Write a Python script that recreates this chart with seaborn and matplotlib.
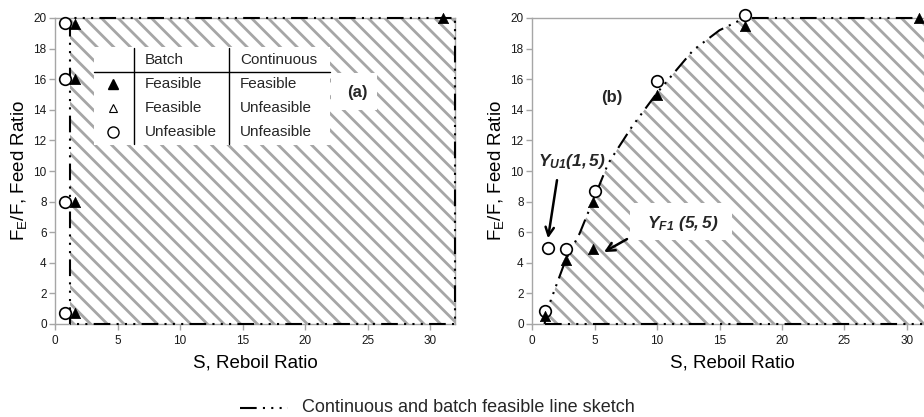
import matplotlib
matplotlib.use("Agg")
import matplotlib.pyplot as plt
import seaborn as sns
from matplotlib.lines import Line2D
from matplotlib.patches import Rectangle

# ---------------- data ----------------
# Panel (a)
a_unf_x = [0.8, 0.8, 0.8, 0.8]
a_unf_y = [19.7, 16.0, 8.0, 0.75]
a_fea_x = [1.6, 1.6, 1.6, 1.6, 31.0]
a_fea_y = [19.6, 16.0, 8.0, 0.75, 20.0]
a_line_x = [1.2, 1.2, 32.0, 32.0, 1.2]
a_line_y = [0.0, 20.0, 20.0, 0.0, 0.0]

# Panel (b)
b_unf_x = [1.0, 1.25, 2.7, 5.0, 10.0, 17.0]
b_unf_y = [0.85, 5.0, 4.9, 8.7, 15.9, 20.2]
b_fea_x = [1.0, 2.75, 4.9, 4.9, 10.0, 17.0, 31.0]
b_fea_y = [0.5, 4.2, 8.0, 4.9, 15.0, 19.5, 20.0]
b_curve_x = [1.0, 1.3, 2.2, 2.7, 3.8, 4.9, 6.1, 8.0, 10.0, 12.9, 15.0, 17.0, 32.0]
b_curve_y = [0.0, 1.1, 3.1, 4.2, 5.9, 8.1, 10.5, 12.9, 15.1, 17.9, 19.2, 20.0, 20.0]
b_base_x = [1.0, 32.0]
b_base_y = [0.0, 0.0]

x_ticks = [0, 5, 10, 15, 20, 25, 30]
y_ticks = [0, 2, 4, 6, 8, 10, 12, 14, 16, 18, 20]

table_header = ["Batch", "Continuous"]
table_batch = ["Feasible", "Feasible", "Unfeasible"]
table_cont = ["Feasible", "Unfeasible", "Unfeasible"]

# ---------------- style ----------------
sns.set_theme(style="white")
plt.rcParams["font.family"] = ["Liberation Sans", "DejaVu Sans"]
plt.rcParams["mathtext.fontset"] = "custom"
plt.rcParams["mathtext.rm"] = "Liberation Sans"
plt.rcParams["mathtext.it"] = "Liberation Sans:italic"
plt.rcParams["mathtext.bf"] = "Liberation Sans:italic:bold"
plt.rcParams["hatch.linewidth"] = 2.0

W, H = 924, 417
fig = plt.figure(figsize=(W / 100, H / 100), dpi=100)
fig.patch.set_facecolor("white")


def fx(px):
    return px / W


def fy(py):
    return 1 - py / H


axA = fig.add_axes([55 / W, 1 - 324 / H, 400 / W, 306 / H])
axB = fig.add_axes([532 / W, 1 - 324 / H, 400 / W, 306 / H])

DASH = (0, (8, 3, 1, 3, 1, 3, 1, 3))
HATCH_C = "#a6a6a6"
SPINE_C = "#a6a6a6"

for ax in (axA, axB):
    ax.set_xlim(0, 32)
    ax.set_ylim(0, 20)
    ax.set_facecolor("white")
    ax.set_xticks(x_ticks)
    ax.set_yticks(y_ticks)
    for s in ax.spines.values():
        s.set_visible(True)
        s.set_color(SPINE_C)
        s.set_linewidth(1.0)
    ax.tick_params(axis="both", direction="out", length=4, width=1, color=SPINE_C,
                   labelsize=8.5, labelcolor="#1a1a1a", pad=2, bottom=True, left=True)
    ax.tick_params(axis="x", pad=4)
    ax.set_xlabel("S, Reboil Ratio", fontsize=13.5, labelpad=5, color="black")
    ax.set_ylabel(r"F$_\mathregular{E}$/F, Feed Ratio", fontsize=13.5, labelpad=3, color="black")

# ---- panel (a) ----
axA.fill_between([a_line_x[0], a_line_x[2]], 0, 20, facecolor="white", edgecolor=HATCH_C,
                 hatch="\\\\", linewidth=0, zorder=1)
sns.lineplot(x=a_line_x, y=a_line_y, sort=False, estimator=None, ax=axA, color="black",
             linewidth=1.5, linestyle=DASH, zorder=3, clip_on=False)
sns.scatterplot(x=a_unf_x, y=a_unf_y, ax=axA, marker="o", s=70, color="white",
                edgecolor="black", linewidth=1.2, zorder=4, clip_on=False)
sns.scatterplot(x=a_fea_x, y=a_fea_y, ax=axA, marker="^", s=55, color="black",
                edgecolor="black", linewidth=0.5, zorder=5, clip_on=False)

# table legend (figure-level so it sits above the hatch)
fig.add_artist(Rectangle((fx(94), fy(145)), fx(330) - fx(94), fy(47) - fy(145),
                         transform=fig.transFigure, facecolor="white", edgecolor="none", zorder=5))
fig.add_artist(Line2D([fx(94), fx(330)], [fy(72), fy(72)], color="black", lw=1.0,
                      transform=fig.transFigure, zorder=6))
for xv in (134, 229):
    fig.add_artist(Line2D([fx(xv), fx(xv)], [fy(48), fy(144)], color="black", lw=1.0,
                          transform=fig.transFigure, zorder=6))
fig.text(fx(145), fy(60), table_header[0], fontsize=11, va="center", ha="left", zorder=7)
fig.text(fx(240), fy(60), table_header[1], fontsize=11, va="center", ha="left", zorder=7)
row_y = [84, 108, 132]
for i, ry in enumerate(row_y):
    fig.text(fx(145), fy(ry), table_batch[i], fontsize=11, va="center", ha="left", zorder=7)
    fig.text(fx(240), fy(ry), table_cont[i], fontsize=11, va="center", ha="left", zorder=7)
fig.add_artist(Line2D([fx(113)], [fy(84)], marker="^", ms=7, color="black", ls="none",
                      transform=fig.transFigure, zorder=7))
fig.add_artist(Line2D([fx(113)], [fy(108)], marker="^", ms=6, mfc="white", mec="black", mew=0.8,
                      ls="none", transform=fig.transFigure, zorder=7))
fig.add_artist(Line2D([fx(113)], [fy(132)], marker="o", ms=8, mfc="white", mec="black", mew=1.0,
                      ls="none", transform=fig.transFigure, zorder=7))

fig.add_artist(Rectangle((fx(331), fy(110)), fx(377) - fx(331), fy(73) - fy(110),
                         transform=fig.transFigure, facecolor="white", edgecolor="none", zorder=5))
fig.text(fx(357), fy(93), "(a)", fontsize=12, fontweight="bold", ha="center", va="center", zorder=7)

# ---- panel (b) ----
axB.fill_between(b_curve_x, 0, b_curve_y, facecolor="white", edgecolor=HATCH_C,
                 hatch="\\\\", linewidth=0, zorder=1)
sns.lineplot(x=b_curve_x, y=b_curve_y, sort=False, estimator=None, ax=axB, color="black",
             linewidth=1.5, linestyle=DASH, zorder=3, clip_on=False)
sns.lineplot(x=b_base_x, y=b_base_y, sort=False, estimator=None, ax=axB, color="black",
             linewidth=1.5, linestyle=DASH, zorder=3, clip_on=False)
sns.scatterplot(x=b_unf_x, y=b_unf_y, ax=axB, marker="o", s=70, color="white",
                edgecolor="black", linewidth=1.2, zorder=4, clip_on=False)
sns.scatterplot(x=b_fea_x, y=b_fea_y, ax=axB, marker="^", s=55, color="black",
                edgecolor="black", linewidth=0.5, zorder=5, clip_on=False)

axB.add_patch(Rectangle((7.84, 5.49), 16.0 - 7.84, 7.91 - 5.49, facecolor="white",
                        edgecolor="none", zorder=2.5))
axB.text(9.2, 6.6, r"$\mathbf{Y_{F1}\ (5,5)}$", fontsize=12.5, ha="left", va="center", zorder=6)
axB.text(0.45, 10.65, r"$\mathbf{Y_{U1}(1,5)}$", fontsize=12.5, ha="left", va="center", zorder=6)
axB.text(6.4, 14.8, "(b)", fontsize=12, fontweight="bold", ha="center", va="center", zorder=6)

arrow_kw = dict(arrowstyle="->,head_length=0.5,head_width=0.25", color="black", lw=1.8,
                shrinkA=0, shrinkB=0)
axB.annotate("", xy=(1.28, 5.6), xytext=(2.0, 9.4), arrowprops=arrow_kw, zorder=6)
axB.annotate("", xy=(5.76, 4.7), xytext=(7.6, 5.55), arrowprops=arrow_kw, zorder=6)

# ---- bottom legend ----
fig.add_artist(Line2D([fx(240), fx(288)], [fy(408), fy(408)], color="black", lw=1.5,
                      linestyle=DASH, transform=fig.transFigure))
fig.text(fx(302), fy(408), "Continuous and batch feasible line sketch", fontsize=13,
         ha="left", va="center")

fig.savefig("out.png", dpi=100, facecolor="white")
